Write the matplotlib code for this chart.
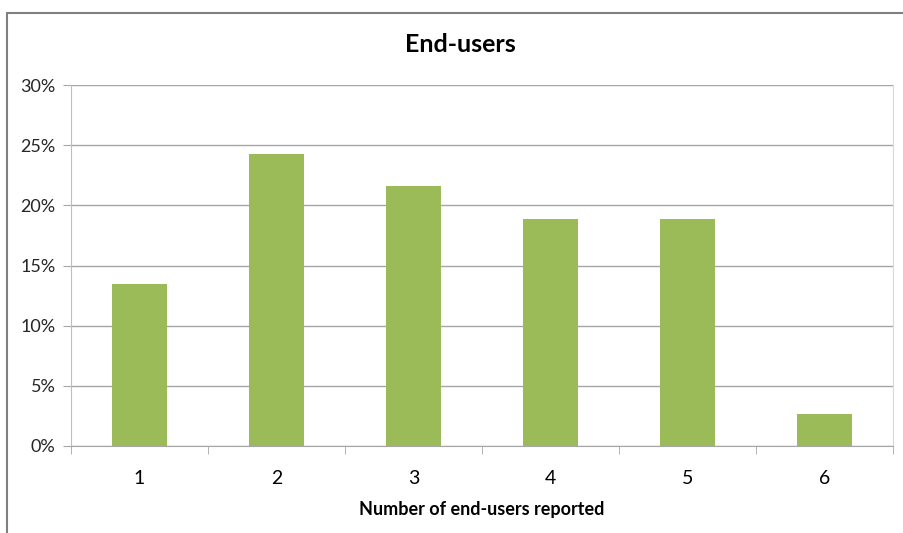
import matplotlib
matplotlib.use("Agg")
import matplotlib.pyplot as plt
from matplotlib.patches import Rectangle
from matplotlib.ticker import PercentFormatter

# share of respondents by number of end-users reported
categories = ["1", "2", "3", "4", "5", "6"]
shares = [13.5, 24.3, 21.6, 18.9, 18.9, 2.7]
y_ticks = [0, 5, 10, 15, 20, 25, 30]

plt.rcParams['font.family'] = ['Lato', 'DejaVu Sans']

fig = plt.figure(figsize=(9.04, 5.33), dpi=100)
ax = fig.add_axes([71 / 904, 1 - 446 / 533, 822 / 904, 361 / 533])

# outer chart border (only left and top visible in the crop)
fig.patches.append(Rectangle((7 / 904, -0.1), 1.2, 1 - 13 / 533 + 0.1,
                             transform=fig.transFigure, fill=False,
                             edgecolor='#808080', linewidth=1.5))

x = range(len(categories))
ax.bar(x, shares, width=0.4, color='#9BBB59', zorder=3)

ax.set_xlim(-0.5, len(categories) - 0.5)
ax.set_ylim(0, 30)
ax.set_yticks(y_ticks)
ax.yaxis.set_major_formatter(PercentFormatter(decimals=0))
ax.set_xticks(x)
ax.set_xticklabels(categories)
ax.set_xticks([i - 0.5 for i in range(len(categories) + 1)], minor=True)

ax.grid(axis='y', color='#A6A6A6', linewidth=1, zorder=0)
ax.spines['top'].set_visible(False)
ax.spines['left'].set_color('#BFBFBF')
ax.spines['right'].set_color('#D9D9D9')
ax.spines['bottom'].set_color('#A6A6A6')

ax.tick_params(axis='x', which='major', length=0, pad=17, labelsize=14, colors='black')
ax.tick_params(axis='x', which='minor', length=6, color='#A6A6A6')
ax.tick_params(axis='y', length=6, color='#A6A6A6', labelsize=13, pad=5)
for lbl in ax.get_yticklabels():
    lbl.set_color('#262626')

fig.text(460 / 904, 1 - 45 / 533, "End-users", fontsize=18, fontweight='bold',
         ha='center', va='center')
ax.set_xlabel("Number of end-users reported", fontsize=13, fontweight='bold', labelpad=10)

plt.savefig("out.png", dpi=100)
plt.close()
